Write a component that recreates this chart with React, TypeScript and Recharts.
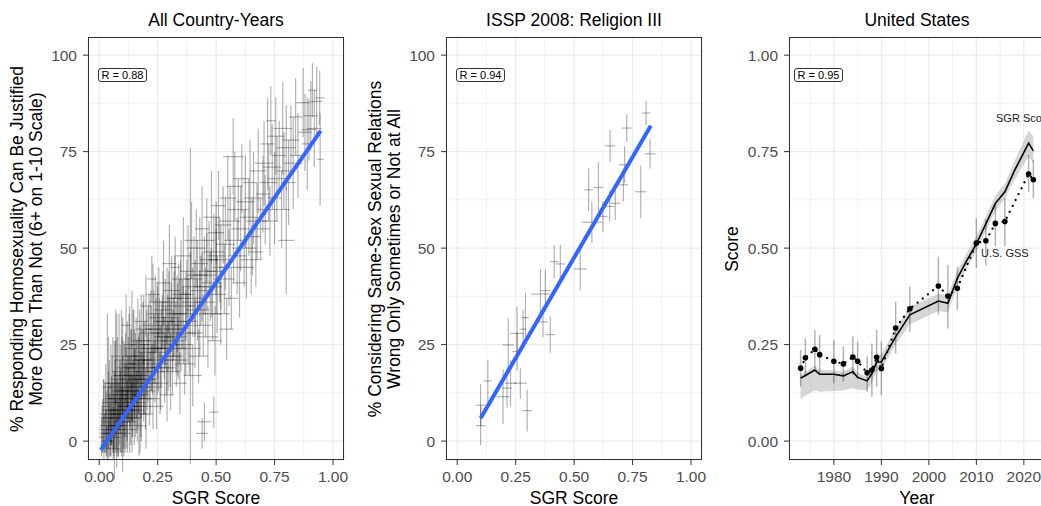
import React from "react";
import {
  ComposedChart,
  Scatter,
  ErrorBar,
  Line,
  Area,
  XAxis,
  YAxis,
  CartesianGrid,
} from "recharts";

const FONT = '"Liberation Sans", Arial, Helvetica, sans-serif';

// All country-years: [sgr score, % justified, sgr error, % error]
const countryYears: number[][] = [
  [0.01, 1, 0.01, 5], [0.015, 4, 0.012, 7], [0.02, -1, 0.015, 4], [0.025, 6, 0.02, 9],
  [0.03, 2, 0.015, 6], [0.035, 14, 0.02, 19], [0.04, 0, 0.02, 5], [0.045, 4, 0.025, 8],
  [0.05, 12, 0.02, 13], [0.05, 7, 0.03, 8], [0.02, 10, 0.01, 6], [0.04, 15, 0.02, 12],
  [0.03, 5, 0.02, 8], [0.04, 8, 0.03, 10], [0.05, 2, 0.025, 6], [0.055, 10, 0.03, 12],
  [0.06, 6, 0.02, 9], [0.065, 8, 0.02, 18], [0.07, 4, 0.03, 7], [0.075, 13, 0.02, 20],
  [0.08, 2, 0.03, 6], [0.085, 7, 0.04, 8], [0.09, 15, 0.03, 10], [0.095, 5, 0.035, 9],
  [0.1, 12, 0.025, 20], [0.105, 17, 0.04, 9], [0.11, 4, 0.03, 7], [0.115, 11, 0.035, 10],
  [0.12, 8, 0.03, 8], [0.125, 16, 0.04, 11], [0.13, 10, 0.035, 7], [0.135, 19, 0.03, 10],
  [0.14, 6, 0.04, 9], [0.145, 13, 0.035, 8], [0.15, 18, 0.03, 11], [0.155, 9, 0.04, 8],
  [0.16, 16, 0.035, 10], [0.165, 12, 0.03, 9], [0.17, 20, 0.04, 8], [0.175, 7, 0.035, 10],
  [0.18, 15, 0.04, 9], [0.19, 18, 0.035, 11],
  [0.06, 3, 0.03, 6], [0.065, 8, 0.025, 10], [0.07, 14, 0.03, 12], [0.075, 1, 0.02, 5],
  [0.08, 6, 0.035, 9], [0.085, 18, 0.03, 15], [0.09, 10, 0.03, 8], [0.09, 4, 0.025, 7],
  [0.095, 21, 0.03, 13], [0.1, 7, 0.04, 10], [0.1, 13, 0.03, 9], [0.07, 22, 0.02, 12],
  [0.06, -2, 0.03, 3], [0.08, 11, 0.04, 6],
  [0.105, 2, 0.03, 6], [0.11, 9, 0.035, 11], [0.115, 15, 0.03, 9], [0.12, 5, 0.04, 8],
  [0.12, 20, 0.03, 11], [0.125, 12, 0.035, 7], [0.13, 3, 0.03, 6], [0.13, 25, 0.025, 10],
  [0.135, 8, 0.04, 9], [0.14, 20, 0.02, 19], [0.14, 11, 0.045, 6], [0.145, 22, 0.035, 12],
  [0.15, 6, 0.03, 7], [0.15, 14, 0.04, 10], [0.115, 30, 0.02, 8],
  [0.155, 19, 0.035, 9], [0.16, 10, 0.04, 8], [0.165, 26, 0.03, 11], [0.17, 14, 0.045, 7],
  [0.17, 4, 0.03, 8], [0.175, 22, 0.035, 8], [0.18, 9, 0.04, 9], [0.185, 17, 0.03, 6],
  [0.19, 29, 0.035, 9], [0.19, 13, 0.05, 8], [0.195, 21, 0.04, 10], [0.2, 7, 0.03, 9],
  [0.2, 35, 0.025, 8], [0.18, 31, 0.03, 7],
  [0.205, 16, 0.04, 8], [0.21, 25, 0.035, 10], [0.215, 11, 0.045, 7], [0.22, 30, 0.04, 9],
  [0.225, 19, 0.035, 6], [0.23, 38, 0.03, 8], [0.23, 14, 0.04, 11], [0.235, 24, 0.05, 9],
  [0.24, 33, 0.035, 10], [0.245, 9, 0.03, 6], [0.25, 20, 0.045, 8], [0.25, 28, 0.03, 12],
  [0.225, 42, 0.02, 6],
  [0.255, 36, 0.04, 9], [0.26, 15, 0.035, 8], [0.265, 24, 0.05, 10], [0.27, 31, 0.04, 7],
  [0.275, 41, 0.03, 11], [0.28, 19, 0.045, 9], [0.285, 27, 0.035, 8], [0.29, 35, 0.04, 10],
  [0.29, 12, 0.03, 7], [0.295, 22, 0.05, 9], [0.3, 46, 0.03, 10], [0.3, 30, 0.04, 7],
  [0.305, 18, 0.04, 10], [0.31, 39, 0.035, 9], [0.315, 26, 0.05, 8], [0.32, 33, 0.04, 11],
  [0.325, 45, 0.02, 8], [0.33, 21, 0.045, 7], [0.335, 29, 0.035, 12], [0.34, 37, 0.04, 9],
  [0.345, 15, 0.03, 8], [0.35, 42, 0.04, 10], [0.35, 25, 0.05, 7],
  [0.355, 33, 0.04, 9], [0.36, 48, 0.035, 10], [0.365, 20, 0.045, 8], [0.37, 28, 0.04, 11],
  [0.375, 38, 0.03, 9], [0.38, 44, 0.035, 12], [0.385, 24, 0.05, 7], [0.39, 35, 0.01, 41],
  [0.395, 52, 0.03, 10], [0.4, 17, 0.04, 8], [0.4, 36, 0.05, 9],
  [0.405, 42, 0.04, 11], [0.41, 28, 0.035, 9], [0.415, 50, 0.04, 10], [0.42, 34, 0.05, 8],
  [0.425, 22, 0.04, 7], [0.43, 46, 0.035, 12], [0.435, 39, 0.045, 9], [0.44, 55, 0.03, 11],
  [0.445, 30, 0.04, 8], [0.45, 43, 0.05, 10], [0.44, 2, 0.025, 4], [0.45, 5, 0.03, 5],
  [0.455, 36, 0.04, 9], [0.46, 52, 0.035, 11], [0.465, 27, 0.045, 8], [0.47, 47, 0.04, 10],
  [0.475, 40, 0.05, 9], [0.48, 58, 0.035, 12], [0.485, 33, 0.04, 7], [0.49, 49, 0.045, 10],
  [0.495, 26, 0.03, 9], [0.5, 44, 0.04, 11], [0.5, 54, 0.035, 8], [0.49, 7.5, 0.02, 4],
  [0.505, 38, 0.04, 10], [0.51, 61, 0.03, 9], [0.515, 47, 0.05, 11], [0.52, 33, 0.04, 8],
  [0.53, 56, 0.035, 10], [0.535, 42, 0.045, 9], [0.54, 51, 0.04, 12], [0.545, 29, 0.03, 8],
  [0.55, 63, 0.035, 11],
  [0.555, 45, 0.04, 10], [0.56, 57, 0.045, 9], [0.565, 37, 0.03, 8], [0.573, 73.7, 0.043, 10],
  [0.575, 52, 0.04, 11], [0.58, 66, 0.035, 9], [0.59, 48, 0.04, 10], [0.595, 60, 0.045, 8],
  [0.6, 41, 0.03, 9],
  [0.605, 55, 0.04, 11], [0.61, 68, 0.035, 9], [0.62, 50, 0.05, 10], [0.625, 62, 0.04, 12],
  [0.63, 45, 0.035, 8], [0.64, 58, 0.04, 10], [0.645, 67, 0.03, 11], [0.65, 47, 0.045, 9],
  [0.655, 53, 0.035, 10], [0.66, 63, 0.04, 12], [0.67, 49, 0.03, 9], [0.675, 57, 0.045, 10],
  [0.68, 70, 0.035, 11], [0.69, 55, 0.04, 8], [0.7, 64, 0.03, 10],
  [0.705, 72, 0.04, 11], [0.71, 60, 0.035, 9], [0.72, 77, 0.03, 12], [0.725, 67, 0.04, 10],
  [0.73, 57, 0.035, 9], [0.734, 83, 0.02, 9], [0.74, 71, 0.04, 11], [0.75, 63, 0.03, 12],
  [0.755, 79, 0.035, 10], [0.76, 68, 0.04, 11], [0.77, 74, 0.03, 9], [0.78, 60, 0.035, 10],
  [0.785, 81, 0.04, 12], [0.79, 70, 0.03, 10], [0.8, 52, 0.035, 14], [0.8, 76, 0.04, 11],
  [0.81, 67, 0.03, 11], [0.82, 78, 0.035, 9], [0.83, 72, 0.04, 12], [0.84, 84, 0.03, 10],
  [0.85, 74, 0.035, 11], [0.872, 87.7, 0.03, 9], [0.88, 80, 0.03, 10], [0.89, 77, 0.025, 12],
  [0.897, 80.7, 0.03, 8], [0.905, 84.3, 0.03, 9], [0.912, 90.9, 0.02, 7], [0.92, 81, 0.03, 10],
  [0.93, 88, 0.025, 9], [0.943, 88.9, 0.02, 7], [0.945, 73, 0.015, 12],
  [0.012, 3, 0.012, 6], [0.018, 7, 0.015, 9], [0.022, 2, 0.02, 5], [0.028, 9, 0.018, 11],
  [0.033, 0, 0.02, 4], [0.038, 6, 0.025, 8], [0.043, 11, 0.02, 10], [0.048, 3, 0.03, 7],
  [0.053, 8, 0.025, 9], [0.058, 15, 0.03, 12], [0.063, 4, 0.025, 8], [0.068, 11, 0.03, 10],
  [0.073, 7, 0.035, 9], [0.078, 16, 0.03, 11], [0.083, 3, 0.03, 7], [0.088, 12, 0.035, 9],
  [0.093, 8, 0.03, 11], [0.098, 17, 0.04, 10], [0.103, 6, 0.035, 8], [0.108, 13, 0.03, 12],
  [0.113, 19, 0.04, 9], [0.118, 9, 0.035, 11], [0.123, 14, 0.03, 8], [0.128, 22, 0.035, 11],
  [0.133, 13, 0.04, 9], [0.138, 17, 0.035, 12], [0.143, 9, 0.03, 8], [0.148, 24, 0.04, 10],
  [0.153, 15, 0.035, 9], [0.158, 21, 0.04, 11], [0.163, 8, 0.03, 8], [0.168, 17, 0.035, 10],
  [0.173, 25, 0.04, 9], [0.178, 12, 0.035, 11], [0.183, 21, 0.04, 8], [0.188, 26, 0.03, 10],
  [0.193, 16, 0.04, 9], [0.198, 11, 0.035, 8], [0.203, 23, 0.04, 11], [0.208, 19, 0.035, 9],
  [0.213, 28, 0.04, 10], [0.218, 15, 0.035, 8], [0.223, 24, 0.045, 11], [0.228, 21, 0.04, 9],
  [0.233, 29, 0.035, 10], [0.238, 18, 0.04, 8], [0.243, 26, 0.045, 11], [0.248, 32, 0.035, 9],
  [0.253, 23, 0.04, 10], [0.258, 29, 0.045, 8], [0.263, 19, 0.04, 11], [0.268, 27, 0.035, 9],
  [0.273, 34, 0.04, 10], [0.278, 24, 0.045, 8], [0.283, 31, 0.04, 11], [0.288, 21, 0.035, 9],
  [0.293, 28, 0.045, 10], [0.298, 36, 0.04, 8], [0.303, 25, 0.04, 11], [0.308, 32, 0.035, 9],
  [0.313, 22, 0.045, 10], [0.318, 29, 0.04, 8], [0.323, 37, 0.035, 11], [0.328, 27, 0.045, 9],
  [0.333, 33, 0.04, 10], [0.338, 24, 0.035, 8], [0.343, 31, 0.045, 11], [0.348, 38, 0.04, 9],
  [0.36, 30, 0.04, 10], [0.37, 35, 0.045, 9], [0.38, 31, 0.04, 11], [0.39, 40, 0.035, 9],
  [0.41, 37, 0.04, 10], [0.42, 43, 0.045, 9], [0.43, 33, 0.04, 11], [0.44, 40, 0.035, 9],
  [0.46, 44, 0.04, 10], [0.48, 41, 0.045, 9], [0.5, 48, 0.04, 10], [0.52, 45, 0.035, 11],
];
const fit1X = [0.007, 0.947];
const fit1Y = [-2.3, 80.4];

// ISSP 2008: [sgr score, % not wrong, sgr error, % error]
const issp2008: number[][] = [
  [0.1, 4.0, 0.021, 5.0], [0.1, 9.3, 0.02, 5.4], [0.131, 15.6, 0.018, 5.5],
  [0.196, 11.5, 0.028, 7.1], [0.213, 13.7, 0.02, 5], [0.228, 15.0, 0.025, 6],
  [0.218, 24.9, 0.025, 6.9], [0.256, 27.9, 0.028, 6.9], [0.282, 29, 0.015, 5],
  [0.292, 32, 0.015, 6.5], [0.27, 15, 0.028, 4], [0.256, 23.2, 0.02, 5],
  [0.299, 7.9, 0.021, 5.4], [0.356, 38.1, 0.039, 6.5], [0.377, 39, 0.02, 5.5],
  [0.367, 30.9, 0.02, 4], [0.398, 27.6, 0.021, 4.8], [0.415, 46.5, 0.018, 4.3],
  [0.441, 45.9, 0.021, 5], [0.526, 44.6, 0.028, 5.6], [0.562, 65.1, 0.018, 5.5],
  [0.604, 65.7, 0.021, 6.6], [0.576, 56.7, 0.043, 5.4], [0.623, 58.2, 0.02, 4],
  [0.652, 60.8, 0.02, 4], [0.676, 61.6, 0.02, 4.3], [0.654, 76.5, 0.021, 4.1],
  [0.711, 66.4, 0.02, 4.3], [0.716, 71.6, 0.025, 4.8], [0.725, 81.1, 0.021, 3.5],
  [0.785, 64.6, 0.025, 6.9], [0.808, 85, 0.018, 3.2], [0.825, 74.4, 0.023, 3.8],
];
const fit2X = [0.1, 0.828];
const fit2Y = [5.9, 81.7];

// United States
const gssYears = [1973, 1974, 1976, 1977, 1980, 1982, 1984, 1985, 1987, 1988, 1989, 1990, 1993, 1996, 2002, 2004, 2006, 2010, 2012, 2014, 2016, 2021, 2022];
const gssScore = [0.189, 0.216, 0.238, 0.224, 0.207, 0.2, 0.218, 0.207, 0.177, 0.184, 0.217, 0.188, 0.293, 0.343, 0.402, 0.376, 0.396, 0.513, 0.519, 0.564, 0.569, 0.692, 0.677];
const gssLow = [0.141, 0.167, 0.188, 0.175, 0.15, 0.154, 0.171, 0.162, 0.128, 0.115, 0.141, 0.119, 0.227, 0.283, 0.327, 0.292, 0.34, 0.448, 0.455, 0.505, 0.505, 0.646, 0.629];
const gssHigh = [0.236, 0.266, 0.288, 0.275, 0.262, 0.245, 0.271, 0.258, 0.219, 0.253, 0.288, 0.258, 0.361, 0.4, 0.478, 0.456, 0.452, 0.577, 0.575, 0.615, 0.63, 0.742, 0.729];

const sgrYears = [1973, 1974, 1976, 1977, 1980, 1982, 1984, 1985, 1987, 1988, 1989, 1990, 1993, 1996, 2002, 2004, 2006, 2008, 2010, 2012, 2014, 2016, 2018, 2021, 2022];
const sgrScore = [0.163, 0.17, 0.184, 0.173, 0.173, 0.169, 0.18, 0.165, 0.156, 0.175, 0.205, 0.205, 0.27, 0.327, 0.363, 0.357, 0.422, 0.468, 0.511, 0.563, 0.616, 0.646, 0.7, 0.772, 0.752];
const sgrLow = [0.108, 0.118, 0.132, 0.128, 0.13, 0.132, 0.137, 0.133, 0.132, 0.15, 0.182, 0.185, 0.25, 0.303, 0.337, 0.333, 0.402, 0.448, 0.492, 0.543, 0.597, 0.628, 0.676, 0.738, 0.72];
const sgrHigh = [0.172, 0.18, 0.195, 0.185, 0.183, 0.18, 0.193, 0.177, 0.166, 0.185, 0.222, 0.225, 0.29, 0.348, 0.382, 0.378, 0.442, 0.488, 0.53, 0.583, 0.636, 0.667, 0.725, 0.805, 0.79];

const sgrTicks = [0, 0.25, 0.5, 0.75, 1];
const sgrMinor = [0.125, 0.375, 0.625, 0.875];
const pctTicks = [0, 25, 50, 75, 100];
const pctMinor = [12.5, 37.5, 62.5, 87.5];
const yearTicks = [1980, 1990, 2000, 2010, 2020];
const yearMinor = [1975, 1985, 1995, 2005, 2015];
const scoreTicks = [0, 0.25, 0.5, 0.75, 1];
const scoreMinor = [0.125, 0.375, 0.625, 0.875];

const tickStyle = { fill: "#4D4D4D", fontSize: 15.5, fontFamily: FONT };
const H = 506;
const MARGIN_TOP = 37;
const MARGIN_BOTTOM = 16;
const X_AXIS_H = 30;

const Text = ({ x, y, size = 17.5, children, color = "#000", align = "center" }: any) => (
  <div
    style={{
      position: "absolute",
      left: x,
      top: y,
      transform: align === "center" ? "translate(-50%,-50%)" : "translate(0,-50%)",
      fontSize: size,
      color,
      whiteSpace: "nowrap",
    }}
  >
    {children}
  </div>
);

const YTitle = ({ x, lines }: { x: number; lines: string[] }) => (
  <div
    style={{
      position: "absolute",
      left: x,
      top: 248.5,
      transform: "translate(-50%,-50%) rotate(-90deg)",
      fontSize: 17.5,
      lineHeight: "19px",
      textAlign: "center",
      whiteSpace: "nowrap",
    }}
  >
    {lines.map((l) => (
      <div key={l}>{l}</div>
    ))}
  </div>
);

const RBox = ({ x, label }: { x: number; label: string }) => (
  <div
    style={{
      position: "absolute",
      left: x,
      top: 67.5,
      width: 49,
      height: 14,
      boxSizing: "border-box",
      border: "1px solid #333",
      borderRadius: 3,
      fontSize: 11,
      lineHeight: "12px",
      textAlign: "center",
      background: "#fff",
    }}
  >
    {label}
  </div>
);

const Frame = ({ left, width }: { left: number; width: number }) => (
  <div
    style={{
      position: "absolute",
      left,
      top: MARGIN_TOP,
      width,
      height: H - MARGIN_TOP - MARGIN_BOTTOM - X_AXIS_H,
      boxSizing: "border-box",
      border: "1px solid #333",
      pointerEvents: "none",
    }}
  />
);

const Empty = () => <g />;

function CrossPanel({ width, yWidth, right, rows, fitX, fitY, barColor }: any) {
  const pts = rows.map(([x, y, ex, ey]: number[]) => ({ x, y, ex, ey }));
  const fit = fitX.map((x: number, i: number) => ({ x, y: fitY[i] }));
  return (
    <ComposedChart
      width={width}
      height={H}
      margin={{ top: MARGIN_TOP, right, bottom: MARGIN_BOTTOM, left: 0 }}
    >
      <CartesianGrid stroke="#EBEBEB" strokeWidth={1.2} />
      <CartesianGrid stroke="#EBEBEB" strokeWidth={0.7} horizontalValues={pctMinor} verticalValues={sgrMinor} />
      <XAxis
        type="number"
        dataKey="x"
        domain={[-0.048, 1.047]}
        allowDataOverflow
        ticks={sgrTicks}
        interval={0}
        tickFormatter={(v) => Number(v).toFixed(2)}
        tick={tickStyle}
        tickSize={5}
        tickMargin={6}
        tickLine={{ stroke: "#333" }}
        axisLine={false}
        height={X_AXIS_H}
      />
      <YAxis
        type="number"
        dataKey="y"
        domain={[-4.9, 104.7]}
        allowDataOverflow
        ticks={pctTicks}
        interval={0}
        tick={tickStyle}
        tickSize={5}
        tickMargin={6}
        tickLine={{ stroke: "#333" }}
        axisLine={false}
        width={yWidth}
      />
      <Scatter data={pts} shape={Empty} isAnimationActive={false}>
        <ErrorBar dataKey="ex" direction="x" width={0} stroke={barColor} strokeWidth={1.2} isAnimationActive={false} />
        <ErrorBar dataKey="ey" direction="y" width={0} stroke={barColor} strokeWidth={1.2} isAnimationActive={false} />
      </Scatter>
      <Line data={fit} dataKey="y" stroke="#3366FF" strokeWidth={4} dot={false} isAnimationActive={false} />
    </ComposedChart>
  );
}

function UsPanel() {
  const sgr = sgrYears.map((year, i) => ({
    year,
    score: sgrScore[i],
    band: [sgrLow[i], sgrHigh[i]],
  }));
  const gss = gssYears.map((year, i) => ({
    year,
    score: gssScore[i],
    err: [gssScore[i] - gssLow[i], gssHigh[i] - gssScore[i]],
  }));
  return (
    <ComposedChart width={350} height={H} margin={{ top: MARGIN_TOP, right: 5, bottom: MARGIN_BOTTOM, left: 0 }}>
      <CartesianGrid stroke="#EBEBEB" strokeWidth={1.2} />
      <CartesianGrid stroke="#EBEBEB" strokeWidth={0.7} horizontalValues={scoreMinor} verticalValues={yearMinor} />
      <XAxis
        type="number"
        dataKey="year"
        domain={[1970.55, 2024.45]}
        allowDataOverflow
        ticks={yearTicks}
        interval={0}
        tick={tickStyle}
        tickSize={5}
        tickMargin={6}
        tickLine={{ stroke: "#333" }}
        axisLine={false}
        height={X_AXIS_H}
      />
      <YAxis
        type="number"
        dataKey="score"
        domain={[-0.049, 1.047]}
        allowDataOverflow
        ticks={scoreTicks}
        interval={0}
        tickFormatter={(v) => Number(v).toFixed(2)}
        tick={tickStyle}
        tickSize={5}
        tickMargin={6}
        tickLine={{ stroke: "#333" }}
        axisLine={false}
        width={89}
      />
      <Area data={sgr} dataKey="band" stroke="none" fill="#999999" fillOpacity={0.4} isAnimationActive={false} />
      <Scatter data={gss} shape={Empty} isAnimationActive={false}>
        <ErrorBar dataKey="err" direction="y" width={0} stroke="rgba(0,0,0,0.3)" strokeWidth={1.5} isAnimationActive={false} />
      </Scatter>
      <Line data={sgr} dataKey="score" stroke="#000" strokeWidth={1.6} dot={false} isAnimationActive={false} />
      <Line
        data={gss}
        dataKey="score"
        stroke="#000"
        strokeWidth={2.2}
        strokeDasharray="0.1 6.5"
        strokeLinecap="round"
        dot={false}
        isAnimationActive={false}
      />
      <Scatter
        data={gss}
        shape={(p: any) => <circle cx={p.cx} cy={p.cy} r={2.8} fill="#000" />}
        isAnimationActive={false}
      />
    </ComposedChart>
  );
}

export default function App() {
  return (
    <div
      style={{
        position: "absolute",
        left: 0,
        top: 0,
        width: 1041,
        height: H,
        overflow: "hidden",
        background: "#fff",
        fontFamily: FONT,
        color: "#000",
      }}
    >
      <div style={{ position: "absolute", left: 0, top: 0 }}>
        <CrossPanel width={350} yWidth={88} right={6} rows={countryYears} fitX={fit1X} fitY={fit1Y} barColor="rgba(0,0,0,0.3)" />
      </div>
      <div style={{ position: "absolute", left: 350, top: 0 }}>
        <CrossPanel width={360} yWidth={96} right={8} rows={issp2008} fitX={fit2X} fitY={fit2Y} barColor="rgba(0,0,0,0.3)" />
      </div>
      <div style={{ position: "absolute", left: 700, top: 0 }}>
        <UsPanel />
      </div>

      <Frame left={88} width={256} />
      <Frame left={446} width={256} />
      <Frame left={789} width={257} />

      <Text x={216} y={20}>All Country-Years</Text>
      <Text x={574} y={20}>ISSP 2008: Religion III</Text>
      <Text x={917} y={20}>United States</Text>

      <Text x={216} y={498}>SGR Score</Text>
      <Text x={574} y={498}>SGR Score</Text>
      <Text x={917} y={498}>Year</Text>

      <YTitle x={26.5} lines={["% Responding Homosexuality Can Be Justified", "More Often Than Not (6+ on 1-10 Scale)"]} />
      <YTitle x={384.5} lines={["% Considering Same-Sex Sexual Relations", "Wrong Only Sometimes or Not at All"]} />
      <YTitle x={731.5} lines={["Score"]} />

      <RBox x={98} label="R = 0.88" />
      <RBox x={456} label="R = 0.94" />
      <RBox x={794} label="R = 0.95" />

      <Text x={996} y={117.5} size={11} color="#222" align="left">SGR Score</Text>
      <Text x={981} y={253} size={11} color="#222" align="left">U.S. GSS</Text>
    </div>
  );
}
